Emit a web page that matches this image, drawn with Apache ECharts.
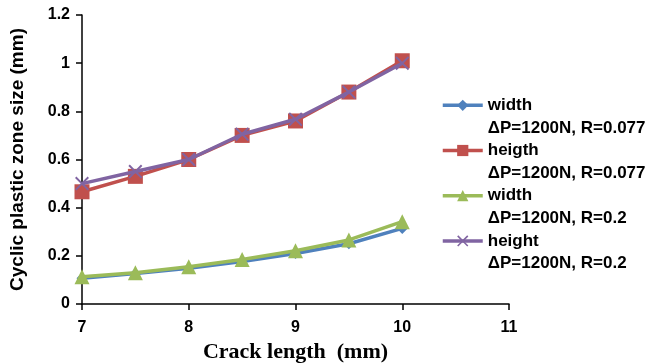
<!DOCTYPE html>
<html>
<head>
<meta charset="utf-8">
<script src="https://cdn.jsdelivr.net/npm/echarts@6/dist/echarts.min.js"></script>
<style>
  html, body { margin: 0; padding: 0; background: #fff; }
  #chart { width: 648px; height: 364px; }
</style>
</head>
<body>
<div id="chart"></div>
<script>
// crack length (mm)
const crackLength = [7, 7.5, 8, 8.5, 9, 9.5, 10];

// cyclic plastic zone size (mm)
const widthR077 = [0.107, 0.127, 0.148, 0.176, 0.210, 0.250, 0.314];
const heigthR077 = [0.466, 0.530, 0.600, 0.700, 0.760, 0.880, 1.010];
const widthR02 = [0.113, 0.130, 0.155, 0.185, 0.221, 0.266, 0.342];
const heightR02 = [0.500, 0.550, 0.600, 0.705, 0.767, 0.880, 1.000];

const seriesNames = [
    'width\nΔP=1200N, R=0.077',
    'heigth\nΔP=1200N, R=0.077',
    'width\nΔP=1200N, R=0.2',
    'height\nΔP=1200N, R=0.2'
];

const LH = 22.6; // legend line height

function pairs(ys) {
    return crackLength.map((x, i) => [x, ys[i]]);
}

const crossPath = 'path://M0,1L1,0L5,4L9,0L10,1L6,5L10,9L9,10L5,6L1,10L0,9L4,5Z';

let chart = echarts.init(document.getElementById('chart'));

// ------------------------------------------------------------------
function lineSeries(name, data, color, symbol, size, z) {
    return {
        name: name,
        type: 'line',
        data: pairs(data),
        symbol: symbol,
        symbolSize: size,
        z: z,
        lineStyle: { color: color, width: 3.5 },
        itemStyle: { color: color },
        emphasis: { disabled: true }
    };
}

let option = {
    animation: false,
    grid: { left: 82, right: 139, top: 15, bottom: 60, outerBoundsMode: 'none', containLabel: false },
    legend: {
        orient: 'vertical',
        left: 441,
        top: 94 - LH,
        padding: 0,
        itemWidth: 40,
        itemHeight: 14,
        itemGap: -LH,
        // blank first line so the icon sits on the series name line
        formatter: name => ' \n' + name,
        lineStyle: { width: 3.5 },
        textStyle: {
            fontFamily: 'Liberation Sans',
            fontWeight: 'bold',
            fontSize: 17,
            color: '#000',
            lineHeight: LH
        },
        data: seriesNames
    },
    xAxis: {
        type: 'value',
        min: 7,
        max: 11,
        interval: 1,
        name: 'Crack length  (mm)',
        nameLocation: 'middle',
        nameGap: 34,
        nameTextStyle: {
            fontFamily: 'Liberation Serif',
            fontWeight: 'bold',
            fontSize: 22,
            color: '#000'
        },
        axisLine: { lineStyle: { color: '#000', width: 1.5 } },
        axisTick: { show: true, inside: false, length: 6, lineStyle: { color: '#000', width: 1.5 } },
        axisLabel: {
            fontFamily: 'Liberation Sans',
            fontWeight: 'bold',
            fontSize: 16,
            color: '#000',
            margin: 16
        },
        splitLine: { show: false }
    },
    yAxis: {
        type: 'value',
        min: 0,
        max: 1.2,
        interval: 0.2,
        name: 'Cyclic plastic zone size (mm)',
        nameLocation: 'middle',
        nameGap: 55,
        nameTextStyle: {
            fontFamily: 'Liberation Sans',
            fontWeight: 'bold',
            fontSize: 19,
            color: '#000'
        },
        axisLine: { show: true, lineStyle: { color: '#000', width: 1.5 } },
        axisTick: { show: true, length: 6, lineStyle: { color: '#000', width: 1.5 } },
        axisLabel: {
            fontFamily: 'Liberation Sans',
            fontWeight: 'bold',
            fontSize: 16,
            color: '#000',
            margin: 12
        },
        splitLine: { show: false }
    },
    series: [
        lineSeries(seriesNames[0], widthR077, '#4F81BD', 'diamond', 11, 2),
        lineSeries(seriesNames[1], heigthR077, '#C0504D', 'rect', 15, 2),
        lineSeries(seriesNames[2], widthR02, '#9BBB59', 'triangle', 15, 3),
        lineSeries(seriesNames[3], heightR02, '#8064A2', crossPath, 14, 4)
    ]
};

chart.setOption(option);
</script>
</body>
</html>
